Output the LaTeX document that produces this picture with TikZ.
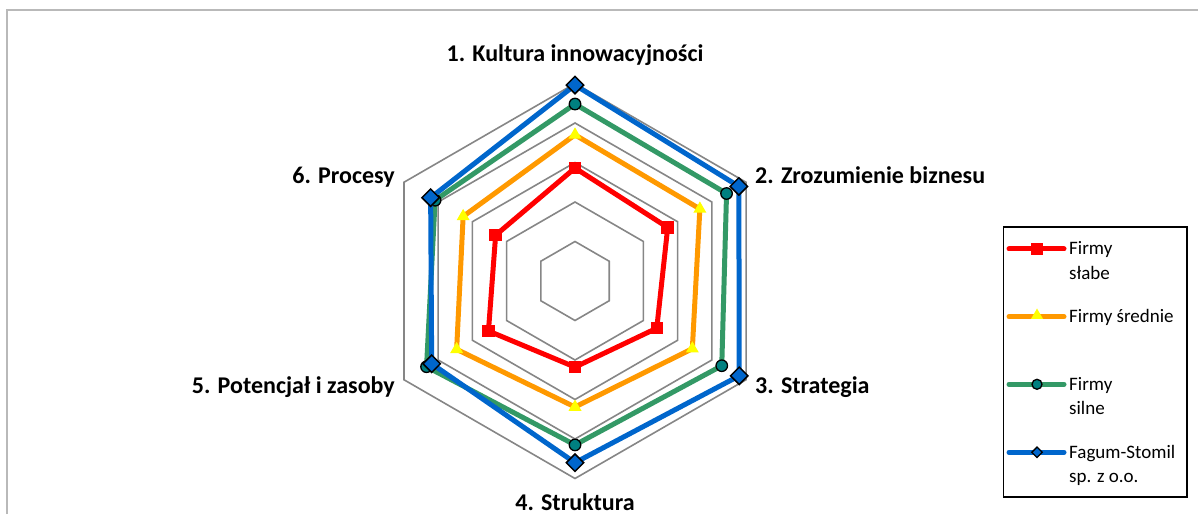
\documentclass[tikz,border=0pt]{standalone}
\usepackage{fontspec}
\setmainfont{Carlito}
\usetikzlibrary{shapes.geometric}
\definecolor{gridgray}{RGB}{134,134,134}
\definecolor{framegray}{RGB}{185,185,185}
\definecolor{sred}{RGB}{255,0,0}
\definecolor{sorange}{RGB}{255,153,0}
\definecolor{syellow}{RGB}{255,255,0}
\definecolor{sgreen}{RGB}{51,153,102}
\definecolor{steal}{RGB}{0,128,128}
\definecolor{sblue}{RGB}{0,102,204}
\begin{document}
\begin{tikzpicture}[x=1pt,y=1pt,
  gridline/.style={draw=gridgray,line width=1.6pt},
  series/.style={line width=5pt,line join=round},
  legline/.style={line width=5pt,line cap=round},
  sqmark/.style={rectangle,fill=sred,minimum size=12.5pt,inner sep=0pt},
  trimark/.style={regular polygon,regular polygon sides=3,fill=syellow,minimum size=15pt,inner sep=0pt},
  circmark/.style={circle,fill=steal,draw=black,line width=1.3pt,minimum size=11.5pt,inner sep=0pt},
  diamark/.style={diamond,fill=sblue,draw=black,line width=1.5pt,minimum size=18pt,inner sep=0pt},
  ldiamark/.style={diamond,fill=sblue,draw=black,line width=1.3pt,minimum size=11pt,inner sep=0pt},
  axlabel/.style={font=\fontsize{24}{29}\selectfont\bfseries,inner sep=0pt},
  legtext/.style={font=\fontsize{19}{24.5}\selectfont,align=left,inner sep=0pt}]
\useasboundingbox (0,0) rectangle (1198,514);
% outer frame
\draw[framegray,line width=1.6pt] (7,0) -- (7,504) -- (1198,504);
\begin{scope}[shift={(575,233)}]
  \def\st{39.5}
  % grid
  \foreach \k in {1,...,5}
    \draw[gridline] (90:\k*\st) -- (30:\k*\st) -- (-30:\k*\st) -- (-90:\k*\st) -- (210:\k*\st) -- (150:\k*\st) -- cycle;
  % data coordinates
  \coordinate (r1) at (90:2.86*\st);  \coordinate (r2) at (30:2.71*\st);
  \coordinate (r3) at (-30:2.39*\st); \coordinate (r4) at (-90:2.18*\st);
  \coordinate (r5) at (210:2.53*\st); \coordinate (r6) at (150:2.32*\st);
  \coordinate (o1) at (90:3.70*\st);  \coordinate (o2) at (30:3.65*\st);
  \coordinate (o3) at (-30:3.43*\st); \coordinate (o4) at (-90:3.19*\st);
  \coordinate (o5) at (210:3.46*\st); \coordinate (o6) at (150:3.27*\st);
  \coordinate (g1) at (90:4.48*\st);  \coordinate (g2) at (30:4.43*\st);
  \coordinate (g3) at (-30:4.29*\st); \coordinate (g4) at (-90:4.15*\st);
  \coordinate (g5) at (210:4.34*\st); \coordinate (g6) at (150:4.09*\st);
  \coordinate (b1) at (90:4.96*\st);  \coordinate (b2) at (30:4.79*\st);
  \coordinate (b3) at (-30:4.80*\st); \coordinate (b4) at (-90:4.60*\st);
  \coordinate (b5) at (210:4.19*\st); \coordinate (b6) at (150:4.22*\st);
  % series
  \draw[series,sred] (r1) -- (r2) -- (r3) -- (r4) -- (r5) -- (r6) -- cycle;
  \foreach \i in {1,...,6} \node[sqmark] (mr\i) at (r\i) {};
  \draw[series,sorange] (o1) -- (o2) -- (o3) -- (o4) -- (o5) -- (o6) -- cycle;
  \foreach \i in {1,...,6} \node[trimark] (mo\i) at (o\i) {};
  \draw[series,sgreen] (g1) -- (g2) -- (g3) -- (g4) -- (g5) -- (g6) -- cycle;
  \foreach \i in {1,...,6} \node[circmark] (mg\i) at (g\i) {};
  \draw[series,sblue] (b1) -- (b2) -- (b3) -- (b4) -- (b5) -- (b6) -- cycle;
  \foreach \i in {1,...,6} \node[diamark] (mb\i) at (b\i) {};
\end{scope}
% axis labels
\node[axlabel,anchor=base] (lab1) at (575,452) {1. Kultura innowacyjności};
\node[axlabel,anchor=base west] (lab2) at (755,330) {2. Zrozumienie biznesu};
\node[axlabel,anchor=base west] (lab3) at (755,121) {3. Strategia};
\node[axlabel,anchor=base] (lab4) at (575,4) {4. Struktura};
\node[axlabel,anchor=base east] (lab5) at (395,121) {5. Potencjał i zasoby};
\node[axlabel,anchor=base east] (lab6) at (395,330) {6. Procesy};
% legend
\node[draw=black,line width=1.5pt,minimum width=183.3pt,minimum height=270pt,anchor=south west,inner sep=0pt] (legend) at (1002.7,16.3) {};
\coordinate (la1) at (1009,265);   \coordinate (lb1) at (1064,265);
\coordinate (la2) at (1009,197.3); \coordinate (lb2) at (1064,197.3);
\coordinate (la3) at (1009,129.7); \coordinate (lb3) at (1064,129.7);
\coordinate (la4) at (1009,61.7);  \coordinate (lb4) at (1064,61.7);
\draw[legline,sred] (la1) -- (lb1);
\node[sqmark] (lm1) at (1037,265) {};
\draw[legline,sorange] (la2) -- (lb2);
\node[trimark,minimum size=14pt] (lm2) at (1037,198.5) {};
\draw[legline,sgreen] (la3) -- (lb3);
\node[circmark,minimum size=10pt] (lm3) at (1037,129.7) {};
\draw[legline,sblue] (la4) -- (lb4);
\node[ldiamark] (lm4) at (1037,61.7) {};
\node[legtext,anchor=base west] (lt1) at (1069,234.5) {Firmy\\słabe};
\node[legtext,anchor=base west] (lt2) at (1069,191.3) {Firmy średnie};
\node[legtext,anchor=base west] (lt3) at (1069,99.2) {Firmy\\silne};
\node[legtext,anchor=base west] (lt4) at (1069,31.2) {Fagum-Stomil\\sp. z o.o.};
\end{tikzpicture}
\end{document}
